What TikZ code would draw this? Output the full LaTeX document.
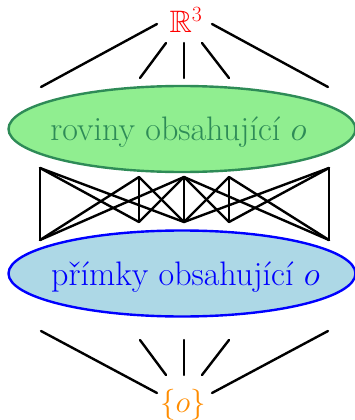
\RequirePackage{fix-cm}
\documentclass[tikz,border=0pt]{standalone}
\usepackage{amssymb}
\usepackage{fontspec}
\usetikzlibrary{shapes.geometric}
\definecolor{planefill}{RGB}{144,238,144}
\definecolor{planeline}{RGB}{46,139,87}
\definecolor{linefill}{RGB}{173,216,230}
\definecolor{lineblue}{RGB}{0,0,255}
\definecolor{toporange}{RGB}{255,140,0}
\tikzset{
  edge/.style={line width=2.4pt, line cap=round, line join=round, black},
  big/.style={font=\fontsize{31}{37}\selectfont, inner sep=0pt},
  label/.style={font=\fontsize{34}{40}\selectfont, inner sep=0pt},
  setbox/.style={ellipse, line width=2.4pt, minimum width=347pt, minimum height=86pt, inner sep=0pt}
}
\begin{document}
\begin{tikzpicture}[x=1pt,y=-1pt]
\useasboundingbox (0,0) rectangle (355,420);
% ellipses
\node[setbox, draw=planeline, fill=planefill] (planes) at (182,129) {};
\node[setbox, draw=lineblue, fill=linefill] (lines) at (182,273.5) {};
\node[label, anchor=base, text=planeline] (planestext) at (178.5,140) {roviny obsahující $o$};
\node[label, anchor=base, text=lineblue] (linestext) at (185.5,285.5) {přímky obsahující $o$};
% top and bottom
\node[big, anchor=base, text=red] (top) at (186,33) {$\mathbb{R}^3$};
\node[big, anchor=base, text=toporange] (bot) at (183,412) {$\{o\}$};
% top fan
\coordinate (a1) at (157,24); \coordinate (a2) at (166,43); \coordinate (a3) at (184,43);
\coordinate (a4) at (202,43); \coordinate (a5) at (212,24);
\coordinate (b1) at (41,87); \coordinate (b2) at (140,78); \coordinate (b3) at (184,78);
\coordinate (b4) at (229,78); \coordinate (b5) at (328,87);
\foreach \i in {1,...,5} \draw[edge] (a\i) -- (b\i);
% middle
\coordinate (T1) at (40,168); \coordinate (T2) at (139,177); \coordinate (T3) at (184,177);
\coordinate (T4) at (229,177); \coordinate (T5) at (329,168);
\coordinate (B1) at (40,240); \coordinate (B2) at (139,222); \coordinate (B3) at (184,222);
\coordinate (B4) at (229,222); \coordinate (B5) at (329,240);
\foreach \t/\b in {1/1,1/2,1/3,2/1,2/2,2/3,3/1,3/2,3/3,3/4,3/5,4/3,4/4,4/5,5/3,5/4,5/5}
  \draw[edge] (T\t) -- (B\b);
% bottom fan
\coordinate (c1) at (41,331); \coordinate (c2) at (140,340); \coordinate (c3) at (184,340);
\coordinate (c4) at (229,340); \coordinate (c5) at (328,331);
\coordinate (d1) at (157,393); \coordinate (d2) at (166,375); \coordinate (d3) at (184,375);
\coordinate (d4) at (202,375); \coordinate (d5) at (212,393);
\foreach \i in {1,...,5} \draw[edge] (c\i) -- (d\i);
\end{tikzpicture}
\end{document}
